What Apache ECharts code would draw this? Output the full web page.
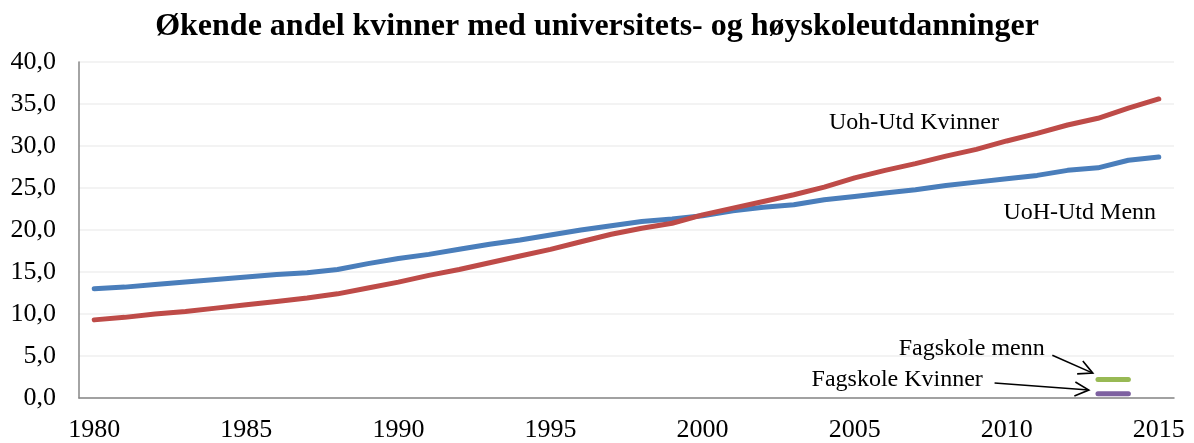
<!DOCTYPE html>
<html>
<head>
<meta charset="utf-8">
<script src="https://cdn.jsdelivr.net/npm/echarts@6/dist/echarts.min.js"></script>
<style>
html, body { margin: 0; padding: 0; background: #fff; }
#chart { width: 1194px; height: 443px; }
</style>
</head>
<body>
<div id="chart"></div>
<script>
// årstall 1980-2015
const years = [];
for (let y = 1980; y <= 2015; y++) years.push(String(y));

// UoH-utdanning, prosent
const uohMenn = [13.0, 13.2, 13.5, 13.8, 14.1, 14.4, 14.7, 14.9, 15.3, 16.0,
  16.6, 17.1, 17.7, 18.3, 18.8, 19.4, 20.0, 20.5, 21.0, 21.3,
  21.7, 22.3, 22.7, 23.0, 23.6, 24.0, 24.4, 24.8, 25.3, 25.7,
  26.1, 26.5, 27.1, 27.4, 28.3, 28.7]
const uohKvinner = [9.3, 9.6, 10.0, 10.3, 10.7, 11.1, 11.5, 11.9, 12.4, 13.1,
  13.8, 14.6, 15.3, 16.1, 16.9, 17.7, 18.6, 19.5, 20.2, 20.8,
  21.8, 22.6, 23.4, 24.2, 25.1, 26.2, 27.1, 27.9, 28.8, 29.6,
  30.6, 31.5, 32.5, 33.3, 34.5, 35.6]

// fagskole, bare 2013 og 2014
const fagYears = ['2013', '2014']
const fagMenn = [2.2, 2.2]
const fagKvinner = [0.5, 0.5]

const pad = (keys, vals) => years.map(y => {
  const i = keys.indexOf(y)
  return i >= 0 ? vals[i] : null
})

const serif = '"Liberation Serif", "Times New Roman", serif'
const chart = echarts.init(document.getElementById('chart'))

const lineSeries = (name, data, color) => ({
  name: name,
  type: 'line',
  data: data,
  showSymbol: false,
  symbol: 'none',
  lineStyle: { width: 5, color: color, cap: 'round', join: 'round' },
  itemStyle: { color: color },
  animation: false
})

chart.setOption({
  animation: false,
  title: {
    text: 'Økende andel kvinner med universitets- og høyskoleutdanninger',
    left: 'center',
    top: 6,
    textStyle: { fontFamily: serif, fontSize: 32, fontWeight: 'bold', color: '#000' }
  },
  grid: { left: 79, right: 20, top: 62, bottom: 43 },
  xAxis: {
    type: 'category',
    data: years,
    boundaryGap: true,
    axisLine: { lineStyle: { color: '#868686', width: 1.5 } },
    axisTick: { show: false },
    axisLabel: { interval: 4, margin: 19, fontFamily: serif, fontSize: 26, color: '#000' },
    splitLine: { show: false }
  },
  yAxis: {
    type: 'value',
    min: 0,
    max: 40,
    interval: 5,
    axisLine: { show: true, lineStyle: { color: '#868686', width: 1.5 } },
    axisTick: { show: false },
    axisLabel: {
      margin: 23, fontFamily: serif, fontSize: 26, color: '#000',
      formatter: v => v.toFixed(1).replace('.', ',')
    },
    splitLine: { lineStyle: { color: '#efefef', width: 1.5 } }
  },
  series: [
    lineSeries('UoH-Utd Menn', uohMenn, '#4a7ebb'),
    lineSeries('Uoh-Utd Kvinner', uohKvinner, '#be4b48'),
    lineSeries('Fagskole menn', pad(fagYears, fagMenn), '#98b954'),
    lineSeries('Fagskole Kvinner', pad(fagYears, fagKvinner), '#7d60a0')
  ]
})

// etiketter og piler, plassert i dataverdier (år kan være desimaltall)
const px = (year, val) => {
  const lo = Math.floor(year)
  const a = chart.convertToPixel({ gridIndex: 0 }, [String(lo), val])
  const b = chart.convertToPixel({ gridIndex: 0 }, [String(lo + 1), val])
  const t = year - lo
  return [a[0] + (b[0] - a[0]) * t, a[1]]
}

const labelText = (text, year, val) => {
  const p = px(year, val)
  return {
    type: 'text',
    x: p[0], y: p[1],
    style: {
      text: text, font: '24px ' + serif, fill: '#000',
      align: 'center', verticalAlign: 'middle'
    }
  }
}

const arrow = (from, to) => {
  const dx = to[0] - from[0], dy = to[1] - from[1]
  const len = Math.sqrt(dx * dx + dy * dy)
  const ux = dx / len, uy = dy / len
  const hl = 14, hw = 7
  const b1 = [to[0] - ux * hl - uy * hw, to[1] - uy * hl + ux * hw]
  const b2 = [to[0] - ux * hl + uy * hw, to[1] - uy * hl - ux * hw]
  return [
    { type: 'line', shape: { x1: from[0], y1: from[1], x2: to[0], y2: to[1] },
      style: { stroke: '#000', lineWidth: 1.6 } },
    { type: 'polyline', shape: { points: [b1, to, b2] },
      style: { stroke: '#000', lineWidth: 1.6, fill: null } }
  ]
}

chart.setOption({
  graphic: [
    labelText('Uoh-Utd Kvinner', 2006.95, 32.8),
    labelText('UoH-Utd Menn', 2012.4, 22.1),
    labelText('Fagskole menn', 2008.85, 5.85),
    labelText('Fagskole Kvinner', 2006.4, 2.15),
    ...arrow(px(2011.5, 5.1), px(2012.83, 2.96)),
    ...arrow(px(2009.6, 1.78), px(2012.7, 0.95))
  ]
})
</script>
</body>
</html>
